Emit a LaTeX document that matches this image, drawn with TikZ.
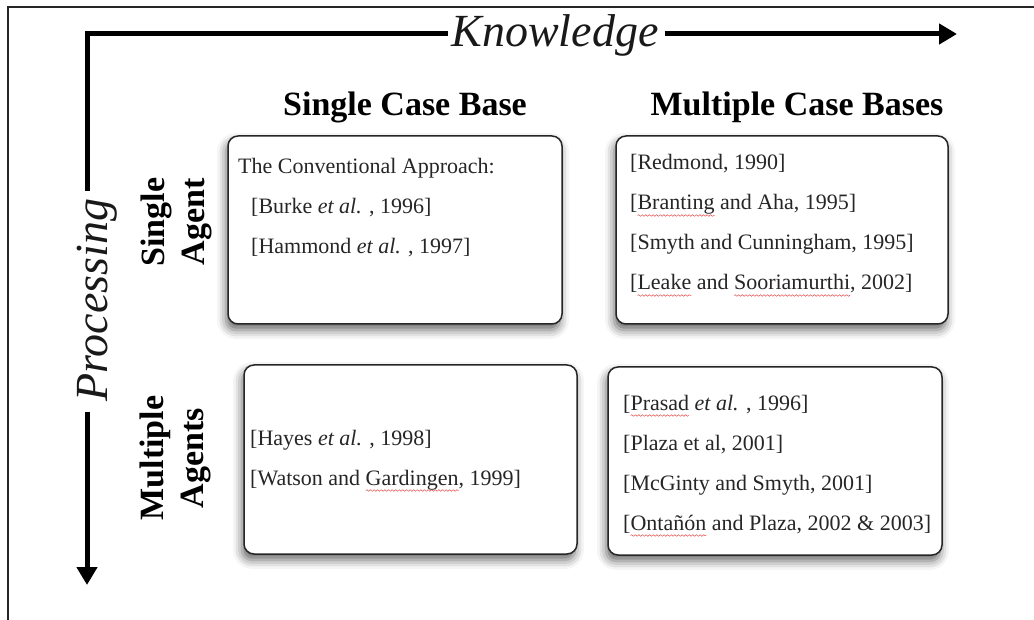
\documentclass[tikz,border=0pt]{standalone}
\usepackage{fontspec}
\setmainfont{Liberation Serif}
\usetikzlibrary{arrows.meta,shadows.blur,decorations.pathmorphing}

% red wavy underline, as left by a spell checker
\newsavebox\spellbox
\newcommand\spellmark[1]{\sbox\spellbox{#1}\rlap{\tikz[overlay]\draw[red!85!black, opacity=0.7, line width=0.5pt,
  decorate, decoration={snake, amplitude=0.8pt, segment length=3.6pt}]
  (0pt,-5.5pt) -- (\the\wd\spellbox,-5.5pt);}\usebox\spellbox}

\newcommand\reffont{\fontsize{22}{26}\selectfont}
\newcommand\headfont{\fontsize{34}{40}\selectfont\bfseries}
\newcommand\axisfont{\fontsize{46}{52}\selectfont\itshape}

\tikzset{
  cell/.style={draw=black!85, line width=1.5pt, rounded corners=10pt, fill=white,
    blur shadow={shadow xshift=-2pt, shadow yshift=-6pt, shadow blur radius=9pt, shadow opacity=60},
    minimum height=188pt, inner sep=0pt},
  ref/.style={font=\reffont, anchor=base west, inner sep=0pt, text=black!85},
  head/.style={font=\headfont, anchor=base, inner sep=0pt},
  rowlabel/.style={font=\headfont, rotate=90, align=center, inner sep=0pt},
  axis/.style={line width=5pt},
  axislabel/.style={font=\axisfont, text=black!90},
  axisarrow/.style={axis, -{Triangle[length=18pt,width=20pt]}},
}

\begin{document}
\begin{tikzpicture}[x=1pt, y=-1pt]
\useasboundingbox (0,0) rectangle (1034,620);

% page frame
\draw[line width=1.5pt, black!85] (8,625) -- (8,7) -- (1040,7);

% axes
\coordinate (corner) at (87,34);
\coordinate (ktip) at (957,34);
\coordinate (ptip) at (87,585);
\node[axislabel, anchor=base, inner xsep=6pt] (kn) at (555,47) {Knowledge};
\node[axislabel, anchor=base, rotate=90, inner xsep=10pt] (pr) at (107,300) {Processing};
\draw[axis, line cap=rect] (corner |- pr.east) -- (corner) -- (corner -| kn.west);
\draw[axisarrow] (corner -| kn.east) -- (ktip);
\draw[axisarrow] (corner |- pr.west) -- (ptip);

% column headings
\node[head] (hsingle) at (405,116) {Single Case Base};
\node[head] (hmulti) at (797,116) {Multiple Case Bases};

% row headings
\node[rowlabel] (rsingle) at (176,222) {Single\\Agent};
\node[rowlabel] (rmulti) at (175,458) {Multiple\\Agents};

% cells
\node[cell, minimum width=334pt] (b1) at (395,230) {};
\node[cell, minimum width=332pt] (b2) at (782,230) {};
\node[cell, minimum width=333pt, minimum height=189pt] (b3) at (410.5,459.5) {};
\node[cell, minimum width=334pt] (b4) at (775,461) {};

% single agent, single case base
\node[ref] (t1a) at (238,174) {The Conventional Approach:};
\node[ref] (t1b) at (251,214) {[Burke \textit{et al.} , 1996]};
\node[ref] (t1c) at (251,254) {[Hammond \textit{et al.} , 1997]};

% single agent, multiple case bases
\node[ref] (t2a) at (630,170) {[Redmond, 1990]};
\node[ref] (t2b) at (630,210) {[\spellmark{Branting} and Aha, 1995]};
\node[ref] (t2c) at (630,250) {[Smyth and Cunningham, 1995]};
\node[ref] (t2d) at (630,290) {[\spellmark{Leake} and \spellmark{Sooriamurthi}, 2002]};

% multiple agents, single case base
\node[ref] (t3a) at (250,445) {[Hayes \textit{et al.} , 1998]};
\node[ref] (t3b) at (250,485) {[Watson and \spellmark{Gardingen}, 1999]};

% multiple agents, multiple case bases
\node[ref] (t4a) at (623,410) {[\spellmark{Prasad} \textit{et al.} , 1996]};
\node[ref] (t4b) at (623,450) {[Plaza et al, 2001]};
\node[ref] (t4c) at (623,490) {[McGinty and Smyth, 2001]};
\node[ref] (t4d) at (623,530) {[\spellmark{Ontañón} and Plaza, 2002 \& 2003]};
\end{tikzpicture}
\end{document}
